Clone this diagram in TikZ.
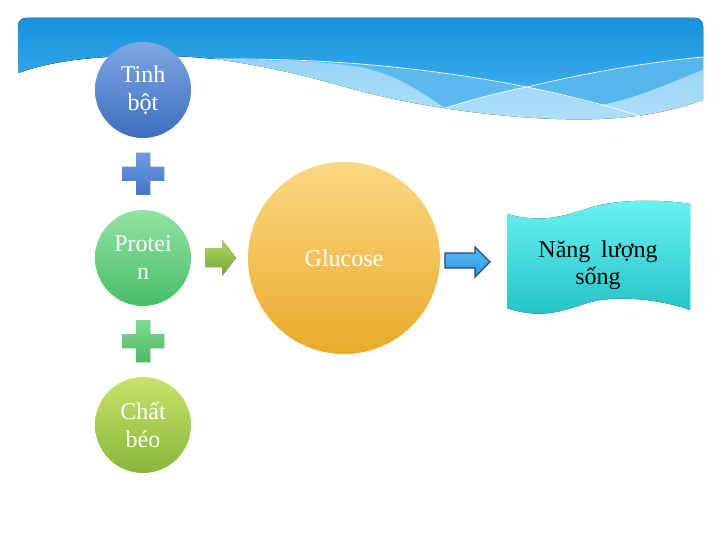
\documentclass[tikz,border=0pt]{standalone}
\usepackage{fontspec}
\setmainfont{Liberation Serif}
\definecolor{darkA}{HTML}{0B8CD8}
\definecolor{darkB}{HTML}{3AAAEA}
\definecolor{medB}{HTML}{55B6EC}
\definecolor{lightA}{HTML}{7FC8F1}
\definecolor{lightB}{HTML}{B0E0FA}
\definecolor{tinhA}{HTML}{7EA8E2}
\definecolor{tinhB}{HTML}{3D6DBE}
\definecolor{protA}{HTML}{92E3A3}
\definecolor{protB}{HTML}{48BD68}
\definecolor{chatA}{HTML}{C8E26C}
\definecolor{chatB}{HTML}{88B63A}
\definecolor{plbA}{HTML}{6F9CE2}
\definecolor{plbB}{HTML}{4575C6}
\definecolor{plgA}{HTML}{80DA92}
\definecolor{plgB}{HTML}{4BBA64}
\definecolor{garA}{HTML}{ABD65E}
\definecolor{garB}{HTML}{78A638}
\definecolor{gluA}{HTML}{FCD883}
\definecolor{gluB}{HTML}{E8AB2A}
\definecolor{barD}{HTML}{1F4E79}
\definecolor{barA}{HTML}{5ABBF6}
\definecolor{barB}{HTML}{2A98E4}
\definecolor{wavA}{HTML}{6AF2F2}
\definecolor{wavB}{HTML}{1EC0C4}
\begin{document}
\begin{tikzpicture}[x=1pt,y=-1pt,
  circtext/.style={circle, minimum size=96pt, inner sep=0pt, align=center, text=white,
    font=\fontsize{24}{28}\selectfont},
  whiteline/.style={draw=white, line width=0.7pt}]
\useasboundingbox (0,0) rectangle (720,540);
\fill[white] (0,0) rectangle (720,540);
% header banner
\begin{scope}
\clip[rounded corners=8pt] (18,18) rectangle (703,150);
% light band
\fill[top color=lightA, bottom color=lightB]
  (10,73) -- (18,73) .. controls (60,58) and (110,55) .. (170,56)
  .. controls (190,56.5) and (205,58) .. (215,59)
  .. controls (280,68) and (320,80) .. (360,91)
  .. controls (420,107) and (520,122) .. (600,119)
  .. controls (650,117) and (680,108) .. (703,100)
  -- (710,100) -- (710,0) -- (10,0) -- cycle;
% medium band A
\fill[medB]
  (10,73) -- (18,73) .. controls (60,58) and (110,55) .. (170,56)
  .. controls (190,56.5) and (205,58) .. (215,59)
  .. controls (330,58) and (430,68) .. (527,87)
  .. controls (560,94) and (585,101) .. (600,105)
  .. controls (640,98) and (680,78) .. (710,67)
  -- (710,0) -- (10,0) -- cycle;
% medium band B
\fill[medB!85!lightA]
  (215,59) .. controls (290,60) and (330,62) .. (360,67)
  .. controls (400,75) and (425,95) .. (445,108)
  .. controls (475,99) and (500,92) .. (527,87)
  .. controls (430,68) and (330,58) .. (215,59) -- cycle;
% dark top
\fill[top color=darkA, bottom color=darkB]
  (10,73) -- (18,73) .. controls (60,58) and (110,55) .. (170,56)
  .. controls (190,56.5) and (205,58) .. (215,59)
  .. controls (330,58) and (430,68) .. (527,87)
  .. controls (590,72) and (650,62) .. (703,57)
  -- (710,57) -- (710,0) -- (10,0) -- cycle;
% white lines
\draw[whiteline] (215,59) .. controls (330,58) and (430,68) .. (527,87)
  .. controls (580,98) and (615,108) .. (643,117);
\draw[whiteline] (445,108) .. controls (475,99) and (500,92) .. (527,87)
  .. controls (590,72) and (650,62) .. (703,57);
\end{scope}
% left column
\node[circtext, top color=tinhA, bottom color=tinhB] (tinh) at (143,90) {Tinh\\bột};
\node[circtext, top color=protA, bottom color=protB] (prot) at (143,258) {Protei\\n};
\node[circtext, top color=chatA, bottom color=chatB] (chat) at (143,425) {Chất\\béo};
% plus signs
\fill[top color=plbA, bottom color=plbB, shift={(143,174)}]
  (-7,-21) -- (7,-21) -- (7,-7) -- (21,-7) -- (21,7) -- (7,7) -- (7,21) -- (-7,21)
  -- (-7,7) -- (-21,7) -- (-21,-7) -- (-7,-7) -- cycle;
\fill[top color=plgA, bottom color=plgB, shift={(143,341)}]
  (-7,-21) -- (7,-21) -- (7,-7) -- (21,-7) -- (21,7) -- (7,7) -- (7,21) -- (-7,21)
  -- (-7,7) -- (-21,7) -- (-21,-7) -- (-7,-7) -- cycle;
% green arrow
\fill[top color=garA, bottom color=garB]
  (205,248) -- (222,248) -- (222,240) -- (236,258) -- (222,276) -- (222,267) -- (205,267) -- cycle;
% glucose
\node[circle, minimum size=192pt, inner sep=0pt, top color=gluA, bottom color=gluB,
  text=white, font=\fontsize{24}{28}\selectfont] (glu) at (344,258) {Glucose};
% blue arrow
\draw[draw=barD, line width=1.2pt, top color=barA, bottom color=barB]
  (445,253) -- (475,253) -- (475,247) -- (490,262) -- (475,277) -- (475,268) -- (445,268) -- cycle;
% wave banner
\fill[top color=wavA, bottom color=wavB]
  (507,214) .. controls (550,226) and (575,211) .. (600,205)
  .. controls (630,199) and (665,200) .. (690,204)
  -- (690,310)
  .. controls (665,301) and (630,296) .. (600,300)
  .. controls (575,304) and (550,323) .. (507,308) -- cycle;
\node[align=center, font=\fontsize{24}{27}\selectfont, text=black] (nang) at (598,265)
  {Năng\hspace{0.45em}lượng\\sống};
\end{tikzpicture}
\end{document}
